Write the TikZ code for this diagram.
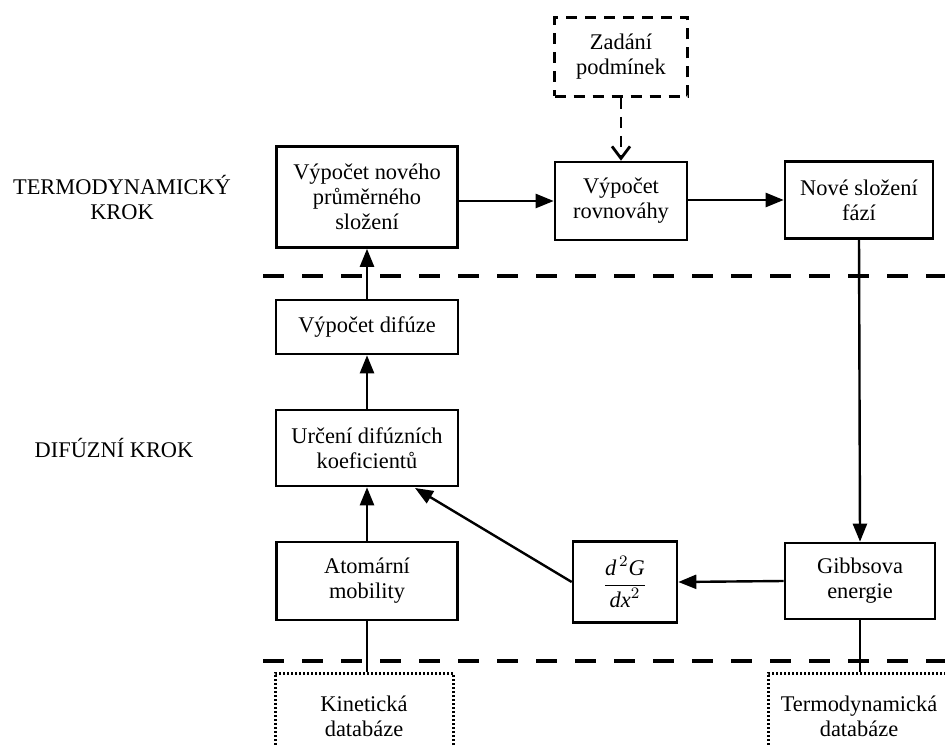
\documentclass[tikz,border=0pt]{standalone}
\usepackage{fontspec}
\setmainfont{Liberation Serif}
\usetikzlibrary{arrows.meta}
\begin{document}
\begin{tikzpicture}[x=0.5pt,y=-0.5pt,
  txt/.style={align=center, inner sep=0pt, font=\fontsize{11.2}{12.5}\selectfont},
  box/.style={txt, draw, line width=1.3pt},
  dbox/.style={txt, draw, line width=1.4pt, dash pattern=on 5.5pt off 4pt},
  obox/.style={txt, draw, line width=1.5pt, dash pattern=on 1pt off 1pt},
  arr/.style={line width=1.2pt, -{Triangle[length=9pt,width=7pt]}},
  plain/.style={line width=1.2pt},
  sep/.style={line width=2.2pt, dash pattern=on 10.5pt off 9pt},
  darr/.style={line width=1.4pt, dash pattern=on 5.5pt off 4pt, -{Straight Barb[length=6pt,width=9pt]}}]
\useasboundingbox (0,0) rectangle (945,747);
\clip (0,0) rectangle (945,747);

% side labels
\node[txt] (lt) at (122,197) {TERMODYNAMICKÝ\\KROK};
\node[txt] (ld) at (114,448) {DIFÚZNÍ KROK};

% boxes
\node[dbox, minimum width=66.5pt, minimum height=39.5pt] (Z) at (621,57) {Zadání\\podmínek};
\node[box, minimum width=90.5pt, minimum height=50.5pt] (A) at (367,197) {Výpočet nového\\průměrného\\složení};
\node[box, minimum width=66pt, minimum height=39pt] (B) at (621,201) {Výpočet\\rovnováhy};
\node[box, minimum width=74pt, minimum height=38.5pt] (C) at (859,200) {Nové složení\\fází};
\node[box, minimum width=91pt, minimum height=27pt] (D) at (367,327) {Výpočet difúze};
\node[box, minimum width=91pt, minimum height=38pt] (E) at (367,448) {Určení difúzních\\koeficientů};
\node[box, minimum width=90.5pt, minimum height=39pt] (F) at (367,581) {Atomární\\mobility};
\node[box, minimum width=52pt, minimum height=40.5pt] (G) at (625,582) {$\displaystyle\frac{\textit{d}^{\,2}\textit{G}}{\textit{dx}^{2}}$};
\node[box, minimum width=75pt, minimum height=38pt] (H) at (860,581) {Gibbsova\\energie};
\node[obox, minimum width=89pt, minimum height=43pt] (K) at (364,716) {Kinetická\\databáze};
\node[obox, minimum width=91pt, minimum height=43pt] (T) at (859,716) {Termodynamická\\databáze};

% separators
\coordinate (s1a) at (263,276); \coordinate (s1b) at (945,276);
\coordinate (s2a) at (263,661); \coordinate (s2b) at (945,661);
\draw[sep] (s1a) -- (s1b);
\draw[sep] (s2a) -- (s2b);

% connectors
\draw[darr] (Z.south) -- (B.north);
\draw[arr] (A.east |- B.west) -- (B.west);
\draw[arr] (B.east |- C.west) -- (C.west);
\draw[arr] (C.south) -- (H.north);
\draw[arr] (H.west) -- (G.east);
\coordinate (Etip) at (415,488);
\draw[arr] (G.west) -- (Etip);
\draw[arr] (F.north) -- (E.south);
\draw[arr] (E.north) -- (D.south);
\draw[arr] (D.north) -- (A.south);
\draw[plain] (F.south) -- (F.south |- K.north);
\draw[plain] (H.south) -- (H.south |- T.north);
\end{tikzpicture}
\end{document}
